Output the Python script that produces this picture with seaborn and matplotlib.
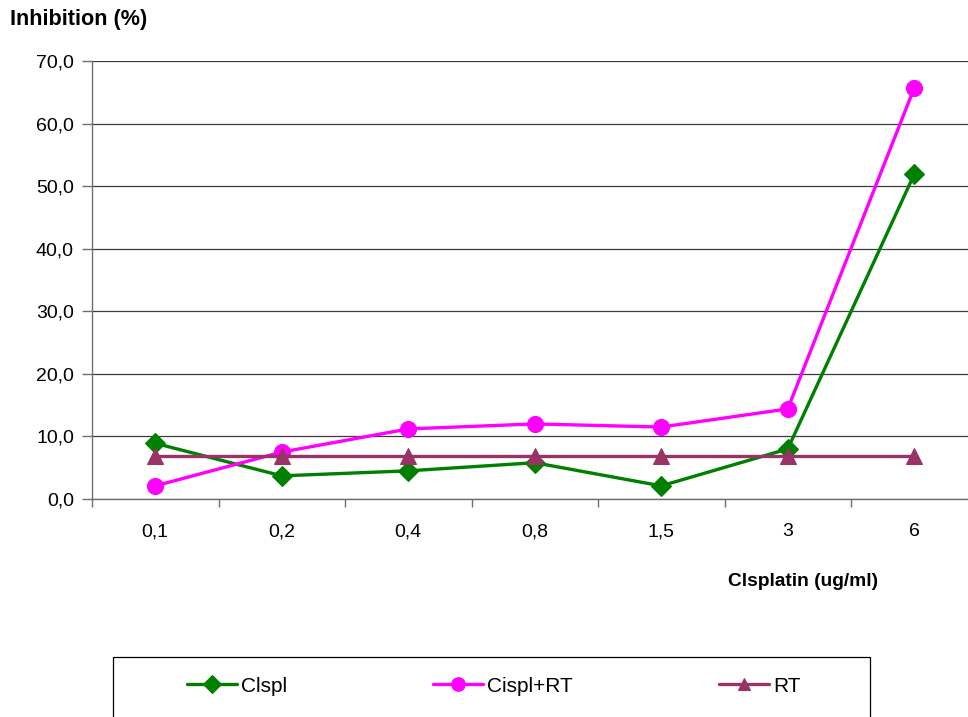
import numpy as np
import pandas as pd
import seaborn as sns
import matplotlib
matplotlib.use("Agg")
import matplotlib.pyplot as plt
from matplotlib.patches import Rectangle

# Cisplatin concentrations (ug/ml) and growth inhibition (%)
concentrations = ["0,1", "0,2", "0,4", "0,8", "1,5", "3", "6"]
cispl = [8.9, 3.7, 4.5, 5.8, 2.1, 8.0, 51.9]
cispl_rt = [2.1, 7.5, 11.2, 12.0, 11.5, 14.4, 65.7]
rt = [6.9, 6.9, 6.9, 6.9, 6.9, 6.9, 6.9]

series_names = ["Clspl", "Cispl+RT", "RT"]
series_values = [cispl, cispl_rt, rt]
series_colors = ["#008000", "#FF00FF", "#993366"]
series_markers = ["D", "o", "^"]
series_msizes = [10.5, 11.5, 11]

y_ticks = [0, 10, 20, 30, 40, 50, 60, 70]

sns.set_theme(style="white")
plt.rcParams["font.family"] = ["Liberation Sans", "DejaVu Sans"]
plt.rcParams["text.color"] = "black"

W, H = 968, 717
fig = plt.figure(figsize=(W / 100, H / 100), dpi=100)
ax = fig.add_axes([92 / W, 1 - 499 / H, 885.5 / W, 438 / H])

pos = np.arange(len(concentrations))
for name, vals, col, mk, ms in zip(series_names, series_values, series_colors,
                                   series_markers, series_msizes):
    df = pd.DataFrame({"x": pos, "y": vals})
    sns.lineplot(data=df, x="x", y="y", ax=ax, color=col, marker=mk,
                 markersize=ms, markeredgecolor=col, markeredgewidth=0.8,
                 linewidth=2.4, label=name, errorbar=None, clip_on=False)

leg = ax.get_legend()
if leg is not None:
    leg.remove()

ax.set_xlim(-0.5, len(concentrations) - 0.5)
ax.set_ylim(0, 70)
ax.set_xlabel("")
ax.set_ylabel("")

# y axis: comma decimal labels, horizontal grid
ax.set_yticks(y_ticks, labels=[f"{v:.1f}".replace(".", ",") for v in y_ticks])
ax.yaxis.grid(True, color="#3c3c3c", linewidth=0.9)
ax.xaxis.grid(False)
ax.set_axisbelow(True)

# x axis: category labels with ticks on band boundaries
ax.set_xticks(pos, labels=concentrations)
ax.set_xticks(np.arange(-0.5, len(concentrations) - 0.5, 1.0), minor=True)
ax.tick_params(axis="x", which="major", length=0, pad=27, labelsize=14,
               labelcolor="black")
for lbl in ax.get_xticklabels():
    lbl.set_verticalalignment("baseline")
ax.tick_params(axis="x", which="minor", bottom=True, length=6, width=1, color="#6e6e6e")
ax.tick_params(axis="y", which="major", left=True, length=7, width=1,
               color="#6e6e6e", pad=6, labelsize=14, labelcolor="black")

for side in ["top", "right"]:
    ax.spines[side].set_visible(False)
for side in ["left", "bottom"]:
    ax.spines[side].set_color("#6e6e6e")
    ax.spines[side].set_linewidth(1.0)

fig.text(10 / W, 1 - 20 / H, "Inhibition (%)", fontsize=15.6, fontweight="bold",
         ha="left", va="center", color="black")
fig.text(803 / W, 1 - 582 / H, "Clsplatin (ug/ml)", fontsize=13.8, fontweight="bold",
         ha="center", va="center", color="black")

# legend box along the bottom
fig.patches.append(Rectangle((113 / W, -0.05), 757 / W, 0.05 + 1 - 657 / H,
                             transform=fig.transFigure, fill=False,
                             edgecolor="black", linewidth=0.9))
handles, labels = ax.get_legend_handles_labels()
fig.legend(handles, labels, loc="center left", bbox_to_anchor=(187 / W, 1 - 686 / H),
           ncol=3, frameon=False, fontsize=15, handlelength=2.4, handletextpad=0.2,
           columnspacing=7.0, borderpad=0, borderaxespad=0, markerscale=0.85,
           labelcolor="black")

fig.savefig("out.png", dpi=100)
